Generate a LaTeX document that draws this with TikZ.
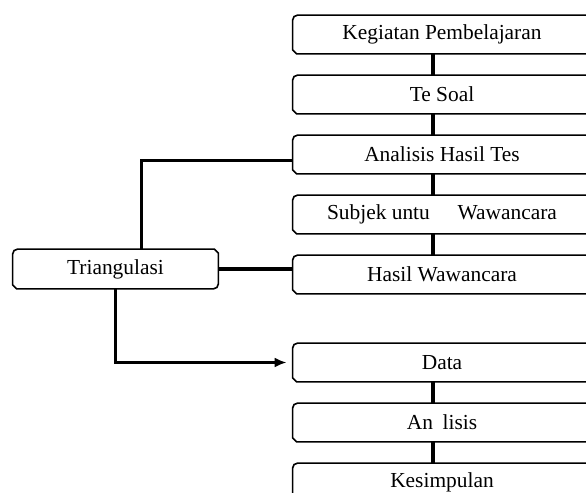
\documentclass[tikz,border=0pt]{standalone}
\usepackage{fontspec}
\setmainfont{Liberation Serif}
\usetikzlibrary{arrows.meta,positioning}

% bingkai kotak kanan: sudut kiri atas bulat, kiri bawah terpotong
\newcommand{\kotakkanan}[1]{%
  \draw[garis kotak] ([xshift=2pt]#1.south west) -- ([yshift=2pt]#1.south west)
    -- ([yshift=-2.5pt]#1.north west) arc[start angle=180,end angle=90,radius=2.5pt]
    -- (#1.north east) -- (#1.south east) -- cycle;}

\begin{document}
\begin{tikzpicture}[
        x=0.5pt,y=0.5pt,
        node distance=30pt,
        kotak/.style={minimum width=149pt,minimum height=19pt,inner sep=0pt,
            font=\fontsize{10.7}{13}\selectfont},
        garis kotak/.style={line width=0.8pt},
        garis/.style={line width=1.6pt},
        >={Latex[length=6pt,width=5pt]} % panah
    ]
        \clip (0,0) rectangle (586,-493);

        % kotak-kotak
        \node[kotak] (A) at (442,-34.5) {Kegiatan Pembelajaran};
        \node[kotak,below of=A] (B) {Te Soal};
        \node[kotak,below of=B] (C) {Analisis Hasil Tes};
        \node[kotak,below of=C] (D) {Subjek untu\hspace{1.3em}Wawancara};
        \node[kotak,below of=D] (E) {Hasil Wawancara};
        \node[kotak,below of=E,node distance=44pt] (F) {Data};
        \node[kotak,below of=F] (G) {An\hspace{0.45em}lisis};
        \node[kotak,below of=G] (H) {Kesimpulan};
        \node[kotak,minimum width=102.5pt,minimum height=19.5pt] (T) at (115.5,-269) {Triangulasi};

        \foreach \n in {A,B,C,D,E,F,G,H} {\kotakkanan{\n}}
        \draw[garis kotak] ([yshift=-2.5pt]T.north west) arc[start angle=180,end angle=90,radius=2.5pt]
            -- ([xshift=-2pt]T.north east) -- ([yshift=-2pt]T.north east)
            -- ([yshift=2.5pt]T.south east) arc[start angle=0,end angle=-90,radius=2.5pt]
            -- ([xshift=2pt]T.south west) -- ([yshift=2pt]T.south west) -- cycle;

        % garis penghubung
        \foreach \a/\b in {A/B,B/C,C/D,D/E,F/G,G/H}
            \draw[garis] ([xshift=-4.5pt]\a.south) -- ([xshift=-4.5pt]\b.north);
        \draw[garis] ([xshift=13pt]T.north) |- ([yshift=-3pt]C.west);
        \draw[garis] (T.east) -- (T.east -| E.west);
        \draw[garis,->] (T.south) |- ([xshift=-3pt]F.west);

    \end{tikzpicture}
\end{document}
